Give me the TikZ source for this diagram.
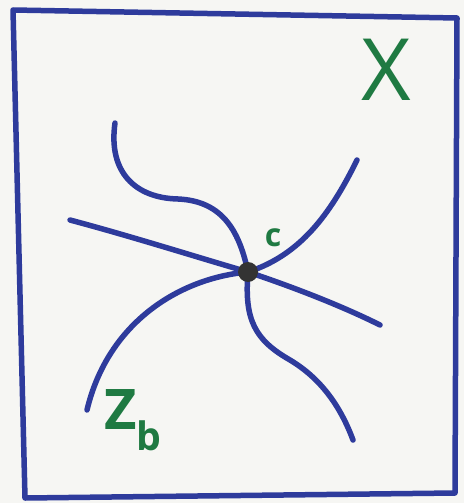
\documentclass[tikz,border=0pt]{standalone}
\usepackage{fontspec}
\setsansfont{Open Sans}
\usepackage{xcolor}
\usetikzlibrary{positioning, calc}
\definecolor{penblue}{HTML}{2E3B9C}
\definecolor{pengreen}{HTML}{1F7A42}
\definecolor{paper}{HTML}{F6F6F3}

\tikzset{
  frame/.style={penblue, line width=5.5pt, line join=round},
  curve/.style={penblue, line width=5.5pt, line cap=round},
  pt/.style={circle, fill=black!80, inner sep=0pt, minimum size=20pt},
  lbl/.style={text=pengreen, font=\sffamily\bfseries, inner sep=0pt}
}

\begin{document}
\begin{tikzpicture}[x=1pt, y=-1pt]
    % Page size, pixel coordinates
    \useasboundingbox[fill=paper] (0,0) rectangle (464,503);

    % Hand drawn frame
    \draw[frame] (13,10) -- (457,18) -- (455,493) -- (25,498) -- cycle;

    % Point c (placed first, drawn on top later)
    \coordinate (c) at (248,272);

    % Free ends of the curves
    \coordinate (E1) at (115,123);
    \coordinate (E2) at (357,160);
    \coordinate (E3) at (70,220);
    \coordinate (E4) at (380,325);
    \coordinate (E5) at (87,410);
    \coordinate (E6) at (353,440);

    % Curves through c
    \draw[curve] (E1) .. controls (108,172) and (135,198) .. (178,199)
                      .. controls (225,201) and (240,235) .. (c);
    \draw[curve] (E2) .. controls (330,215) and (300,255) .. (c);
    \draw[curve] (E3) .. controls (130,236) and (190,255) .. (c);
    \draw[curve] (c) .. controls (290,286) and (340,305) .. (E4);
    \draw[curve] (c) .. controls (180,278) and (108,322) .. (E5);
    \draw[curve] (c) .. controls (244,320) and (255,340) .. (290,360)
                     .. controls (320,378) and (340,405) .. (E6);

    \node[pt] (cdot) at (c) {};
    \node[lbl, font=\sffamily\bfseries\fontsize{32}{32}\selectfont] (clbl) at (273,238) {c};

    % Labels
    \node[lbl, font=\sffamily\fontsize{86}{86}\selectfont] (X) at (386,70) {X};
    \node[lbl, font=\sffamily\bfseries\fontsize{56}{56}\selectfont] (Zb) at (133,420) {Z\textsubscript{b}};
\end{tikzpicture}
\end{document}
